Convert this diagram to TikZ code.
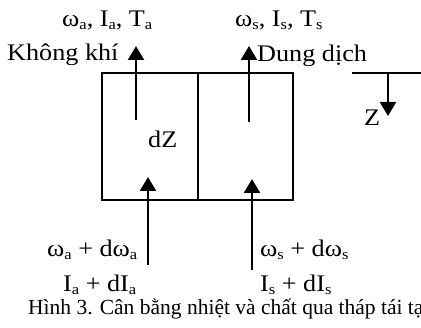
\documentclass[tikz,border=0pt]{standalone}
\usepackage{fontspec}
\usepackage{graphicx}
\setmainfont{Liberation Serif}
\usetikzlibrary{arrows.meta}
\newcommand{\wtext}[1]{\scalebox{1.1}[1]{#1}}
\newcommand{\sub}[1]{\raisebox{-2.5pt}{\fontsize{15}{16}\selectfont #1}}
\tikzset{
  lbl/.style={inner sep=0pt, anchor=base west, font=\fontsize{23.8}{26}\selectfont},
  captiontext/.style={inner sep=0pt, anchor=base west, font=\fontsize{21.5}{24}\selectfont},
  cell/.style={draw, line width=1.8pt, inner sep=0pt, anchor=north west},
  flow/.style={line width=2.5pt, -{Triangle[length=14pt,width=16pt]}},
}
\begin{document}
\begin{tikzpicture}[x=1pt,y=-1pt]
  \useasboundingbox (0,0) rectangle (421,328);
  \begin{scope}
  \clip (0,0) rectangle (421,328);
  % the two halves of the column element dZ
  \node[cell, minimum width=96pt, minimum height=127pt] (air) at (101,72) {};
  \node[cell, minimum width=95pt, minimum height=127pt] (sol) at (197,72) {};

  % stream end points
  \coordinate (aTop) at (136,46);
  \coordinate (aIn)  at (136,120);
  \coordinate (sTop) at (249,46);
  \coordinate (sIn)  at (249,122);
  \coordinate (aBot) at (148,265);
  \coordinate (aOut) at (148,177);
  \coordinate (sBot) at (252,270);
  \coordinate (sOut) at (252,179);
  \draw[flow] (aIn) -- (aTop);
  \draw[flow] (sIn) -- (sTop);
  \draw[flow] (aBot) -- (aOut);
  \draw[flow] (sBot) -- (sOut);

  % height axis
  \coordinate (zL) at (352,73);
  \coordinate (zR) at (421,73);
  \coordinate (zA) at (388,73);
  \coordinate (zB) at (388,116);
  \draw[line width=1.8pt] (zL) -- (zR);
  \draw[flow] (zA) -- (zB);
  \node[lbl] (z) at (364,126) {\wtext{Z}};

  % labels
  \node[lbl] (aoutl) at (62,27) {\wtext{ω\sub{a}, I\sub{a}, T\sub{a}}};
  \node[lbl] (airl) at (7,61) {\wtext{Không khí}};
  \node[lbl] (soutl) at (235,27) {\wtext{ω\sub{s}, I\sub{s}, T\sub{s}}};
  \node[lbl] (soll) at (257,62) {\wtext{Dung dịch}};
  \node[lbl] (dz) at (148,148) {\wtext{dZ}};
  \node[lbl] (ainw) at (47,257) {\wtext{ω\sub{a} + dω\sub{a}}};
  \node[lbl] (aini) at (63,292) {\wtext{I\sub{a} + dI\sub{a}}};
  \node[lbl] (sinw) at (260,257) {\wtext{ω\sub{s} + dω\sub{s}}};
  \node[lbl] (sini) at (260,292) {\wtext{I\sub{s} + dI\sub{s}}};
  \node[captiontext] (title) at (28,315) {Hình 3. Cân bằng nhiệt và chất qua tháp tái tạo};
  \end{scope}
\end{tikzpicture}
\end{document}
